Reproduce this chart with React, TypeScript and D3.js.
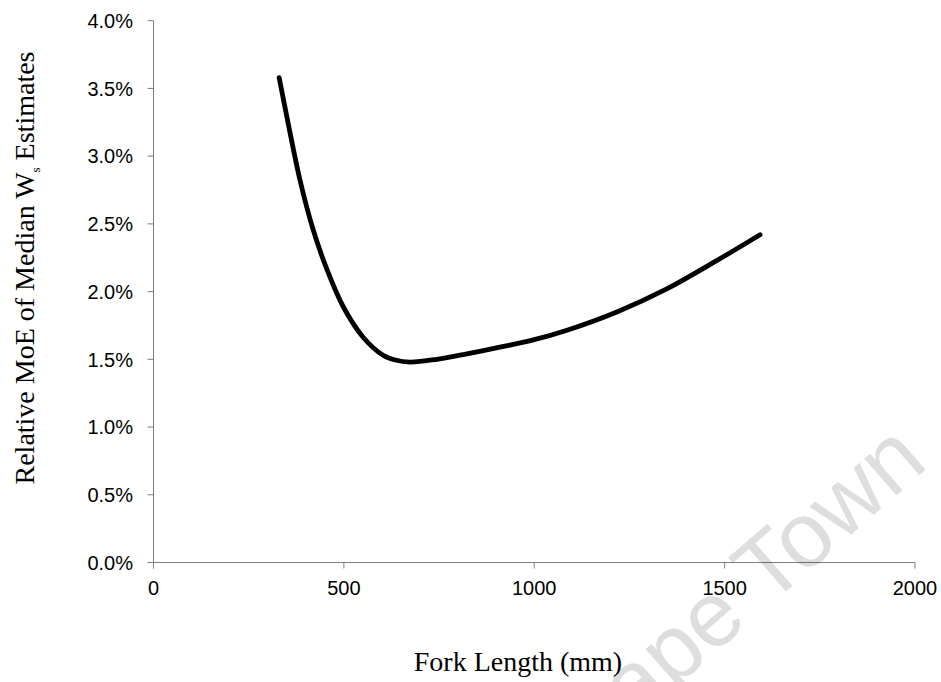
import React from "react";
import * as d3 from "d3";

// Fork length (mm) and relative margin of error of the median Ws estimate (%)
const forkLength = [330, 356, 385, 419, 456, 498, 550, 603, 635, 674, 744, 823, 910, 1000, 1086, 1217, 1348, 1480, 1593];
const relativeMoE = [3.58, 3.21, 2.82, 2.46, 2.16, 1.89, 1.665, 1.53, 1.495, 1.48, 1.5, 1.54, 1.59, 1.645, 1.715, 1.85, 2.02, 2.23, 2.42];

const xTicks = [0, 500, 1000, 1500, 2000];
const yTicks = [0, 0.5, 1, 1.5, 2, 2.5, 3, 3.5, 4];

const W = 941;
const H = 682;
const axisColor = "#7f7f7f";
const sans = "'Liberation Sans', Arial, sans-serif";
const serif = "'Liberation Serif', 'Times New Roman', serif";

export default function App() {
  const x = d3.scaleLinear().domain([0, 2000]).range([153.5, 915]);
  const y = d3.scaleLinear().domain([0, 4]).range([562.5, 20.7]);

  const points = forkLength.map((l, i) => [l, relativeMoE[i]] as [number, number]);
  const line = d3
    .line<[number, number]>()
    .x((d) => x(d[0]))
    .y((d) => y(d[1]))
    .curve(d3.curveCatmullRom.alpha(0.5));

  const x0 = x(0);
  const y0 = y(0);

  return (
    <svg
      width={W}
      height={H}
      viewBox={`0 0 ${W} ${H}`}
      style={{ position: "absolute", left: 0, top: 0, background: "#fff" }}
    >
      <rect width={W} height={H} fill="#fff" />

      {/* y axis */}
      <line x1={x0} x2={x0} y1={y(4)} y2={y0 + 6} stroke={axisColor} strokeWidth={1} />
      {yTicks.map((t) => (
        <g key={`y${t}`}>
          <line x1={x0 - 6} x2={x0} y1={y(t)} y2={y(t)} stroke={axisColor} strokeWidth={1} />
          <text
            x={133}
            y={y(t) + 7.2}
            textAnchor="end"
            fontFamily={sans}
            fontSize={20}
            fill="#000"
          >
            {t.toFixed(1) + "%"}
          </text>
        </g>
      ))}

      {/* x axis */}
      <line x1={x0 - 6} x2={x(2000)} y1={y0} y2={y0} stroke={axisColor} strokeWidth={1} />
      {xTicks.map((t) => (
        <g key={`x${t}`}>
          <line x1={x(t)} x2={x(t)} y1={y0} y2={y0 + 6} stroke={axisColor} strokeWidth={1} />
          <text
            x={x(t)}
            y={595}
            textAnchor="middle"
            fontFamily={sans}
            fontSize={20}
            fill="#000"
          >
            {t}
          </text>
        </g>
      ))}

      {/* curve */}
      <path
        d={line(points) ?? ""}
        fill="none"
        stroke="#000"
        strokeWidth={4.8}
        strokeLinecap="round"
        strokeLinejoin="round"
      />

      {/* axis titles */}
      <text x={518} y={671} textAnchor="middle" fontFamily={serif} fontSize={28} fill="#000">
        Fork Length (mm)
      </text>
      <text
        transform="translate(33.5,268) rotate(-90)"
        textAnchor="middle"
        fontFamily={serif}
        fontSize={28}
        fill="#000"
      >
        Relative MoE of Median W
        <tspan fontSize={13} dy={6}>s</tspan>
        <tspan dy={-6}> Estimates</tspan>
      </text>

      {/* watermark */}
      <text
        transform="translate(930,466) rotate(-41)"
        textAnchor="end"
        fontFamily={sans}
        fontSize={92}
        fill="#000"
        fillOpacity={0.13}
      >
        Cape Town
      </text>
    </svg>
  );
}
